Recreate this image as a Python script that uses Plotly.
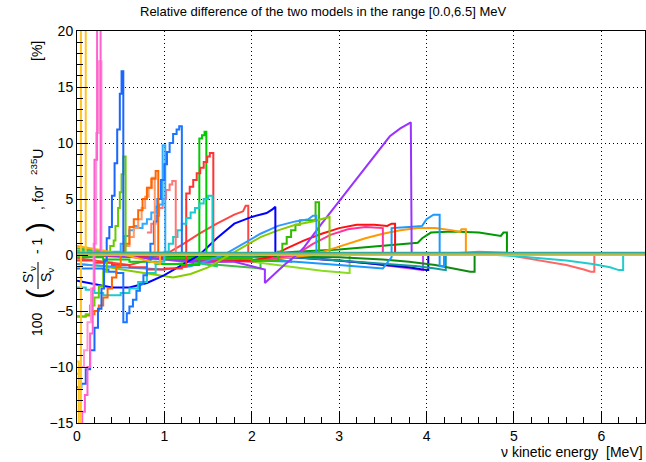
import plotly.graph_objects as go

E_MAX = 6.5

# ---------------- series data: x = nu energy [MeV], y = relative difference [%] ----------------
pink_a_x = [0, 0.06, 0.09, 0.12, 0.15, 0.18, 0.20, 0.23, 0.27]
pink_a_y = [-15.5, -14, -12.5, -10, -7, -3, 8.5, 25, 0]

pink_b_x = [0, 0.04, 0.08, 0.12, 0.16, 0.19, 0.22, 0.25, 0.28]
pink_b_y = [-10.6, -10, -8.5, -6, -3, 1, 10.9, 17.3, 0]

yellow_x = [0, 0.02, 0.045, 0.10]
yellow_y = [-9.5, -16, 25, 0]

blue_b_x = [0, 0.05, 0.10, 0.15, 0.20, 0.24, 0.28, 0.31, 0.34, 0.37, 0.40, 0.43, 0.46, 0.49, 0.51, 0.53]
blue_b_y = [-11.8, -11.5, -10.2, -8.5, -6.5, -4.8, -3, -0.5, 1.5, 2.5, 5.3, 8.2, 11.2, 14.4, 16.4, 0]

lime_a_x = [0, 0.10, 0.15, 0.20, 0.25, 0.30, 0.34, 0.38, 0.42, 0.44, 0.47, 0.49, 0.51, 0.53, 0.556]
lime_a_y = [-5.5, -5.3, -4.5, -3.8, -2.8, -1.5, 0, 0.8, 1.3, 2.6, 4.2, 5.6, 7.2, 8.8, 0]

orange_a_x = [0, 0.10, 0.15, 0.20, 0.25, 0.30, 0.35, 0.40, 0.45, 0.50, 0.55, 0.60, 0.65, 0.70, 0.75, 0.80, 0.85, 0.90, 0.93]
orange_a_y = [-5.5, -5.4, -5.3, -5.0, -4.5, -3.8, -3.0, -2.0, -1.0, 0, 1.0, 2.5, 3.2, 4.0, 5.0, 6.0, 6.8, 7.5, 0]

orange_l_x = [0.55, 0.60, 0.65, 0.70, 0.74, 0.78, 0.82, 0.86, 0.89]
orange_l_y = [0.8, 1.6, 2.4, 3.2, 4.2, 5.2, 6.0, 6.9, 0]

salmon_a_x = [0.80, 0.85, 0.90, 0.94, 0.98, 1.02, 1.06, 1.09, 1.13]
salmon_a_y = [2.0, 2.8, 3.5, 4.2, 5.0, 5.8, 6.3, 6.6, 0]

blue_c_x = [0, 0.30, 0.36, 0.45, 0.53, 0.57, 0.60, 0.64, 0.68, 0.72, 0.76, 0.80, 0.84, 0.88, 0.92,
            0.96, 1.00, 1.03, 1.06, 1.10, 1.14, 1.17, 1.20]
blue_c_y = [-1.2, -1.3, -1.5, -1.6, -6.0, -5.2, -4.6, -4.0, -3.2, -2.6, -1.8, -0.5, 1.0, 3.0, 5.0,
            6.7, 8.1, 9.2, 10.0, 10.8, 11.2, 11.5, 0]

lightblue_x = [0.40, 0.50, 0.55, 0.60, 0.65, 0.70, 0.75, 0.80, 0.85, 0.90, 0.94, 0.98, 1.01]
lightblue_y = [0.3, 1.0, 1.7, 2.2, 2.6, 2.4, 2.8, 3.2, 3.8, 4.3, 4.5, 9.8, 0]

cyan_a_x = [0, 0.1, 0.2, 0.3, 0.4, 0.5, 0.6, 0.7, 0.8, 0.9, 1.0, 1.05, 1.1, 1.15, 1.2, 1.25, 1.3,
            1.35, 1.4, 1.45, 1.5, 1.55]
cyan_a_y = [-2.9, -3.1, -3.4, -3.6, -3.6, -3.4, -3.0, -2.4, -1.6, -0.6, 0.3, 1.0, 1.6, 2.2, 2.8, 3.3, 3.8,
            4.2, 4.6, 5.0, 5.3, 0]

red_a_x = [0, 0.2, 0.4, 0.6, 0.8, 1.0, 1.2, 1.25, 1.29, 1.33, 1.37, 1.41, 1.45, 1.49, 1.52, 1.56]
red_a_y = [-0.5, -0.7, -0.9, -1.1, -1.3, -1.2, -1.0, 5.5, 6.1, 6.7, 7.3, 7.8, 8.3, 8.8, 9.1, 0]

green_a_x = [0, 0.3, 0.6, 0.9, 1.2, 1.40, 1.43, 1.46, 1.48]
green_a_y = [-0.2, -0.4, -0.6, -0.8, -0.9, 10.4, 10.7, 11.0, 0]

blue_d_x = [0, 0.2, 0.4, 0.6, 0.8, 1.0, 1.2, 1.4, 1.6, 1.8, 2.0, 2.17, 2.24, 2.27, 2.27]
blue_d_y = [-2.3, -2.6, -2.9, -2.9, -2.5, -1.8, -0.9, 0.0, 1.5, 2.8, 3.4, 3.75, 4.1, 4.3, 0]

azure_a_x = [0, 0.5, 1.0, 1.3, 1.5, 1.7, 1.9, 2.1, 2.3, 2.5, 2.65, 2.70, 2.74, 2.74]
azure_a_y = [-0.8, -1.1, -1.3, -1.0, -0.5, 0.1, 1.0, 1.9, 2.6, 3.0, 3.2, 3.5, 3.5, 0]

lime_b_x = [0, 0.3, 0.6, 0.9, 1.1, 1.3, 1.5, 1.7, 1.9, 2.1, 2.3, 2.5, 2.7, 2.87, 2.89, 2.89]
lime_b_y = [-0.8, -1.0, -1.4, -1.8, -2.0, -1.7, -1.1, -0.2, 0.7, 1.6, 2.2, 2.7, 3.0, 3.4, 3.4, 0]

green_b_x = [0, 1.0, 2.0, 2.30, 2.35, 2.40, 2.45, 2.50, 2.55, 2.73, 2.77]
green_b_y = [0.2, -0.3, -0.5, 0.3, 1.0, 1.6, 2.2, 2.7, 3.1, 4.7, 0]

purple_x = [0, 0.5, 1.0, 1.5, 1.8, 2.15, 2.15, 2.3, 2.4, 2.5, 2.6, 2.8, 3.0, 3.2, 3.4, 3.58, 3.7, 3.82, 3.83]
purple_y = [0.2, -0.1, -0.4, -0.6, -0.6, -1.3, -2.5, -1.4, -0.7, -0.1, 0.7, 2.8, 4.8, 6.9, 8.8, 10.6, 11.3, 11.85, 0]

red_b_x = [0, 1.0, 1.5, 2.0, 2.2, 2.4, 2.6, 2.8, 3.0, 3.2, 3.4, 3.55, 3.60, 3.64, 3.64]
red_b_y = [0.1, -0.3, -0.6, -0.5, -0.2, 0.6, 1.3, 1.9, 2.4, 2.7, 2.7, 2.6, 2.8, 2.8, 0]

red_c_x = [0, 0.3, 0.6, 0.8, 1.0, 1.2, 1.4, 1.6, 1.8, 1.9, 1.93, 1.96, 1.96]
red_c_y = [-0.3, -0.6, -0.9, -0.5, 0.0, 0.9, 1.9, 2.8, 3.6, 3.9, 4.4, 4.4, 0]

magenta_x = [0, 1.0, 2.0, 2.5, 2.7, 2.9, 3.1, 3.3, 3.45, 3.50, 3.50]
magenta_y = [0, -0.3, -0.6, 0, 1.0, 1.8, 2.3, 2.5, 2.4, 2.4, 0]

azure_b_x = [0, 1.5, 2.5, 3.0, 3.5, 3.6, 3.6, 3.8, 3.95, 4.00, 4.08, 4.15, 4.15, 4.20, 4.20]
azure_b_y = [0, -0.4, -0.6, -0.9, -1.2, -0.2, 2.4, 2.5, 2.6, 3.2, 3.6, 3.6, -1.0, -1.0, 0]

orange_b_x = [0, 1.0, 2.0, 2.7, 2.9, 3.1, 3.3, 3.5, 3.7, 3.9, 4.1, 4.3, 4.38, 4.40, 4.45, 4.45]
orange_b_y = [0, -0.3, -0.5, 0, 0.5, 1.0, 1.5, 1.9, 2.2, 2.4, 2.4, 2.2, 2.05, 2.3, 2.3, 0]

dgreen_x = [0, 1.0, 2.0, 2.5, 3.0, 3.5, 3.9, 3.95, 4.05, 4.3, 4.6, 4.85, 4.88, 4.92, 4.92]
dgreen_y = [0, -0.2, 0, 0.3, 0.5, 0.8, 1.1, 1.5, 2.0, 2.1, 2.0, 1.7, 2.0, 2.0, 0]

salmon_b_x = [0, 4.0, 4.6, 4.9, 5.0, 5.3, 5.6, 5.8, 5.88, 5.92, 5.92]
salmon_b_y = [0, 0, 0.3, 0.2, -0.1, -0.5, -0.9, -1.3, -1.5, -1.5, 0]

cyan_b_x = [0, 4.6, 5.0, 5.3, 5.6, 5.9, 6.1, 6.2, 6.25, 6.25]
cyan_b_y = [0, 0.1, -0.1, -0.3, -0.5, -0.8, -1.1, -1.35, -1.35, 0]

lime_c_x = [0, 1.0, 1.6, 2.0, 2.5, 2.8, 3.1, 3.12, 3.12]
lime_c_y = [0.3, 0, -0.2, -0.6, -1.1, -1.4, -1.6, -1.6, 0]

violet_x = [0, 2.0, 2.6, 3.0, 3.3, 3.5, 3.7, 3.96, 3.96]
violet_y = [0, -0.1, -0.3, -0.5, -0.7, -0.9, -1.1, -1.35, 0]

navy_x = [0, 2.5, 3.0, 3.5, 3.8, 4.0, 4.02, 4.02]
navy_y = [0, -0.2, -0.5, -0.9, -1.1, -1.35, -1.35, 0]

teal_a_x = [0, 2.5, 3.0, 3.5, 3.9, 4.1, 4.2, 4.22, 4.22]
teal_a_y = [0, -0.2, -0.5, -0.8, -1.0, -1.2, -1.35, -1.35, 0]

dgreen_b_x = [0, 3.0, 3.5, 3.8, 4.1, 4.3, 4.5, 4.55, 4.55]
dgreen_b_y = [0, -0.2, -0.4, -0.6, -0.9, -1.2, -1.5, -1.5, 0]

teal_b_x = [0, 2.0, 2.3, 2.45, 2.45]
teal_b_y = [0, -0.2, -0.4, -0.6, 0]

green_c_x = [0, 0.3, 0.6, 0.9, 1.2, 1.5, 1.8, 2.1, 2.1]
green_c_y = [0.6, 0.3, 0, -0.3, -0.6, -0.8, -1.0, -1.2, 0]

green_d_x = [0, 0.5, 1.0, 1.5, 1.6, 1.6]
green_d_y = [0.4, 0.2, -0.2, -0.9, -1.0, 0]

purple_b_x = [0, 0.8, 1.1, 1.33, 1.33]
purple_b_y = [0, -0.1, -0.4, -0.7, 0]

yellow_b_x = [0, 0.3, 0.6, 0.9, 0.95, 0.95]
yellow_b_y = [0.8, 0.4, -0.1, -0.7, -0.8, 0.1]

flat_a_x = [0, 6.5]
flat_a_y = [0.05, 0.05]
flat_b_x = [0, 6.5]
flat_b_y = [0.2, 0.2]

series = [
    (green_c_x, green_c_y, "#44bb44", "linear"),
    (green_d_x, green_d_y, "#22cc66", "linear"),
    (purple_b_x, purple_b_y, "#aa33ee", "linear"),
    (lime_c_x, lime_c_y, "#88dd22", "linear"),
    (violet_x, violet_y, "#cc44ff", "linear"),
    (navy_x, navy_y, "#0000cc", "linear"),
    (teal_a_x, teal_a_y, "#119999", "linear"),
    (dgreen_b_x, dgreen_b_y, "#118811", "linear"),
    (teal_b_x, teal_b_y, "#22aa88", "linear"),
    (salmon_b_x, salmon_b_y, "#ff6666", "linear"),
    (cyan_b_x, cyan_b_y, "#22cccc", "linear"),
    (dgreen_x, dgreen_y, "#009900", "linear"),
    (orange_b_x, orange_b_y, "#ff9900", "linear"),
    (azure_b_x, azure_b_y, "#1a99ff", "linear"),
    (magenta_x, magenta_y, "#ff3399", "linear"),
    (red_b_x, red_b_y, "#ff1111", "linear"),
    (red_c_x, red_c_y, "#ff4444", "linear"),
    (purple_x, purple_y, "#9933ff", "linear"),
    (green_b_x, green_b_y, "#33bb00", "hv"),
    (lime_b_x, lime_b_y, "#88cc00", "linear"),
    (azure_a_x, azure_a_y, "#3399ff", "linear"),
    (blue_d_x, blue_d_y, "#0000ff", "linear"),
    (green_a_x, green_a_y, "#00cc00", "hv"),
    (red_a_x, red_a_y, "#ff3333", "hv"),
    (cyan_a_x, cyan_a_y, "#1ccccc", "hv"),
    (salmon_a_x, salmon_a_y, "#ff7777", "hv"),
    (lightblue_x, lightblue_y, "#33aaff", "hv"),
    (blue_c_x, blue_c_y, "#1a75ff", "hv"),
    (orange_l_x, orange_l_y, "#ff9966", "hv"),
    (orange_a_x, orange_a_y, "#ff6600", "hv"),
    (lime_a_x, lime_a_y, "#66cc00", "hv"),
    (blue_b_x, blue_b_y, "#1a66ff", "hv"),
    (yellow_b_x, yellow_b_y, "#ffaa00", "linear"),
    (pink_b_x, pink_b_y, "#ff99d6", "hv"),
    (pink_a_x, pink_a_y, "#ff5fcf", "hv"),
    (yellow_x, yellow_y, "#ffc425", "hv"),
    (flat_b_x, flat_b_y, "#33aa99", "linear"),
    (flat_a_x, flat_a_y, "#b8b84a", "linear"),
]

x_ticks = [0, 1, 2, 3, 4, 5, 6]
y_ticks = [-15, -10, -5, 0, 5, 10, 15, 20]

fig = go.Figure()
for sx, sy, col, shp in series:
    xs = list(sx)
    ys = list(sy)
    if xs[-1] < E_MAX:
        xs.append(E_MAX)
        ys.append(ys[-1])
    fig.add_trace(go.Scatter(x=xs, y=ys, mode="lines",
                             line=dict(color=col, width=2, shape=shp),
                             hoverinfo="skip", showlegend=False))

FONT = "Liberation Sans, Arial, sans-serif"
W, H = 646, 462
L, R, T, B = 77, 1, 31, 39
PW, PH = W - L - R, H - T - B


def px(xp):
    return (xp - L) / PW


def py(yp):
    return (H - B - yp) / PH


fig.update_layout(
    width=W, height=H,
    margin=dict(l=L, r=R, t=T, b=B, autoexpand=False),
    paper_bgcolor="white", plot_bgcolor="white",
    font=dict(family=FONT, size=14, color="black"),
    showlegend=False,
    xaxis=dict(range=[0, E_MAX], tickvals=x_ticks, ticks="inside", ticklen=11, tickwidth=1,
               tickcolor="black", showline=True, linecolor="black", linewidth=1, mirror=True,
               showgrid=True, gridcolor="black", griddash="1px,3px", gridwidth=1, zeroline=False,
               tickfont=dict(size=14, family=FONT), automargin=False,
               minor=dict(dtick=0.2, ticks="inside", ticklen=6, tickcolor="black", showgrid=False)),
    yaxis=dict(range=[-15, 20], tickvals=y_ticks, ticks="inside", ticklen=11, tickwidth=1,
               tickcolor="black", showline=True, linecolor="black", linewidth=1, mirror=True,
               showgrid=True, gridcolor="black", griddash="1px,3px", gridwidth=1, zeroline=False,
               tickfont=dict(size=14, family=FONT), automargin=False,
               minor=dict(dtick=1, ticks="inside", ticklen=6, tickcolor="black", showgrid=False)),
)

ann = []
ann.append(dict(text="Relative difference of the two models in the range [0.0,6.5] MeV",
                x=px(323), y=py(11), xref="paper", yref="paper", showarrow=False,
                font=dict(size=13, family=FONT), xanchor="center", yanchor="middle"))
ann.append(dict(text="ν kinetic energy  [MeV]", x=px(645), y=py(452), xref="paper", yref="paper",
                showarrow=False, font=dict(size=14, family=FONT), xanchor="right", yanchor="middle"))

ytitle_parts = [
    ("100", 37, 324, 14),
    ("(", 37, 294, 30),
    ("S'<sub>ν</sub>", 29, 275, 14),
    ("S<sub>ν</sub>", 47, 275, 14),
    ("- 1", 37, 246, 14),
    (")", 37, 227, 30),
    (", for", 38, 198, 14),
    ("<sup>235</sup>U", 37, 162, 14),
    ("[%]", 37, 51, 14),
]
for txt, xx, yy, sz in ytitle_parts:
    ann.append(dict(text=txt, x=px(xx), y=py(yy), xref="paper", yref="paper", showarrow=False,
                    textangle=-90, font=dict(size=sz, family=FONT), xanchor="center", yanchor="middle"))
fig.update_layout(annotations=ann)
fig.add_shape(type="line", xref="paper", yref="paper", x0=px(38), x1=px(38), y0=py(262), y1=py(289),
              line=dict(color="black", width=1))

fig.write_html("out.html", config={"displayModeBar": False},
               post_script="document.body.style.margin='0px';document.body.style.overflow='hidden';")
